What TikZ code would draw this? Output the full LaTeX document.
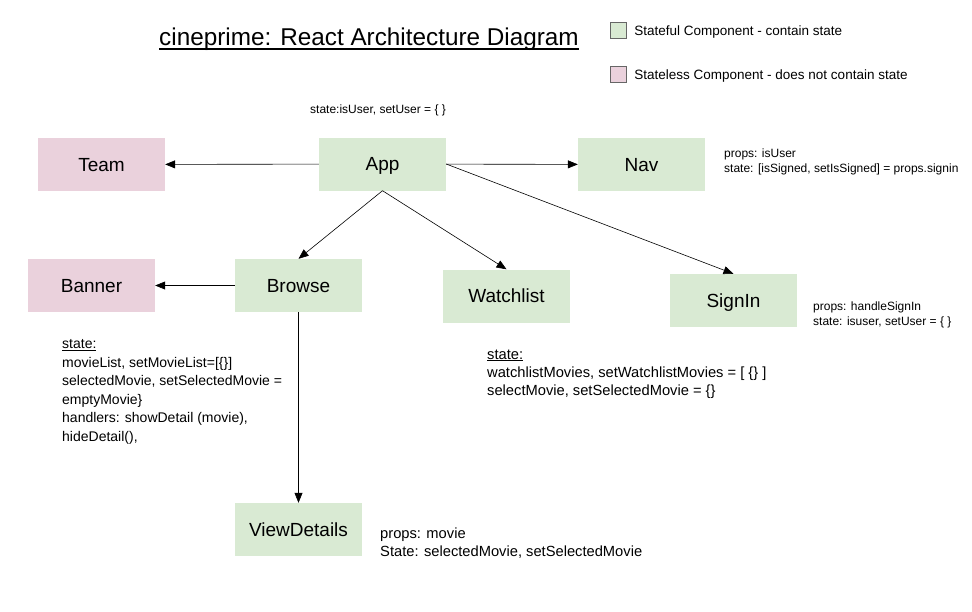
\documentclass[tikz,border=0pt]{standalone}
\usepackage{fontspec}
\setmainfont{Liberation Sans}
\usetikzlibrary{arrows.meta, positioning}
\definecolor{stategreen}{HTML}{D9EAD3}
\definecolor{statepink}{HTML}{EAD1DC}

\begin{document}
\begin{tikzpicture}[
		x=1pt, y=-1pt,
		comp/.style={minimum width=127pt, minimum height=53pt, inner sep=0pt, text height=13.6pt, text depth=0pt, font=\fontsize{19}{22}\selectfont},
		stateful/.style={comp, fill=stategreen},
		stateless/.style={comp, fill=statepink},
		key/.style={draw=black!60, fill=#1, minimum size=16pt, inner sep=0pt},
		keytext/.style={right=8pt of #1, yshift=-2pt, inner sep=0pt, font=\fontsize{13.5}{16}\selectfont},
		note/.style={anchor=west, align=left, inner sep=0pt, font=\fontsize{14}{18.5}\selectfont},
		bignote/.style={note, font=\fontsize{14.7}{18.2}\selectfont},
		smallnote/.style={anchor=west, align=left, inner sep=0pt, font=\fontsize{12}{15}\selectfont},
		arrow/.style={-{Triangle[length=10pt, width=8pt]}, semithick}
	]
	\useasboundingbox (0,0) rectangle (972,611);

	% Title
	\node[inner sep=0pt, font=\fontsize{24.3}{28}\selectfont] (title) at (369,39) {cineprime: React Architecture Diagram};
	\draw[line width=1.6pt] ([yshift=-4pt]title.base west) -- ([yshift=-4pt]title.base east);

	% Legend
	\node[key=stategreen] (keyfull) at (618,30.5) {};
	\node[keytext=keyfull] (keyfulltext) {Stateful Component - contain state};
	\node[key=statepink] (keyless) at (618,74.5) {};
	\node[keytext=keyless] (keylesstext) {Stateless Component - does not contain state};

	% Components
	\node[stateless] (team) at (101.5,164.5) {Team};
	\node[stateful] (app) at (382.5,164) {App};
	\node[stateful] (nav) at (641.5,164.5) {Nav};
	\node[stateless] (banner) at (91.5,285.5) {Banner};
	\node[stateful] (browse) at (298.5,285.5) {Browse};
	\node[stateful] (watchlist) at (506.5,296) {Watchlist};
	\node[stateful] (signin) at (733.5,300.5) {SignIn};
	\node[stateful] (viewdetails) at (298.5,529.5) {ViewDetails};

	% Notes
	\node[smallnote] (appnote) at (310,110) {state:isUser, setUser = \{ \}};
	\node[smallnote] (navnote) at (724,161.5) {props: isUser\\state: [isSigned, setIsSigned] = props.signin};
	\node[smallnote] (signinnote) at (813,315) {props: handleSignIn\\state: isuser, setUser = \{ \}};
	\node[note] (browsenote) at (62,392) {\underline{state:}\\movieList, setMovieList=[\{\}]\\selectedMovie, setSelectedMovie =\\emptyMovie\}\\handlers: showDetail (movie),\\hideDetail(),};
	\node[bignote] (watchlistnote) at (487,374) {\underline{state:}\\watchlistMovies, setWatchlistMovies = [ \{\} ]\\selectMovie, setSelectedMovie = \{\}};
	\node[bignote] (viewnote) at (380,543) {props: movie\\State: selectedMovie, setSelectedMovie};

	% Arrows
	\draw[arrow] (app) -- (team);
	\draw[arrow] (app) -- (nav);
	\draw[arrow] (app.south) -- (browse.north);
	\draw[arrow] (app.south) -- (watchlist.north);
	\draw[arrow] (app.east) -- (signin.north);
	\draw[arrow] (browse) -- (banner);
	\draw[arrow] (browse) -- (viewdetails);
\end{tikzpicture}
\end{document}
